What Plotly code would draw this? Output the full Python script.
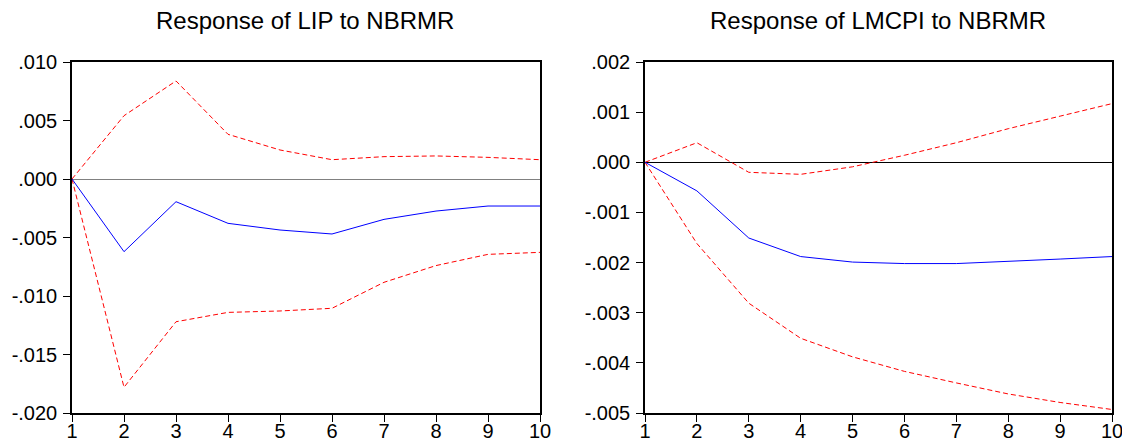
import plotly.graph_objects as go

periods = [1, 2, 3, 4, 5, 6, 7, 8, 9, 10]

lip_resp = [0.0, -0.00621, -0.00194, -0.00379, -0.00436, -0.00470, -0.00345, -0.00274, -0.00231, -0.00231]
lip_upper = [0.0, 0.00541, 0.00838, 0.00382, 0.00248, 0.00165, 0.00191, 0.00197, 0.00185, 0.00165]
lip_lower = [0.0, -0.01780, -0.01220, -0.01140, -0.01128, -0.01105, -0.00883, -0.00740, -0.00644, -0.00627]

cpi_resp = [0.0, -0.00057, -0.00151, -0.00188, -0.00199, -0.00202, -0.00202, -0.00198, -0.00193, -0.00188]
cpi_upper = [0.0, 0.00039, -0.00020, -0.00024, -0.00009, 0.00014, 0.00039, 0.00067, 0.00092, 0.00117]
cpi_lower = [0.0, -0.00162, -0.00281, -0.00351, -0.00388, -0.00417, -0.00440, -0.00462, -0.00479, -0.00493]

lip_ticks = [0.010, 0.005, 0.0, -0.005, -0.010, -0.015, -0.020]
lip_ticktext = [".010", ".005", ".000", "-.005", "-.010", "-.015", "-.020"]
cpi_ticks = [0.002, 0.001, 0.0, -0.001, -0.002, -0.003, -0.004, -0.005]
cpi_ticktext = [".002", ".001", ".000", "-.001", "-.002", "-.003", "-.004", "-.005"]

titles = ["Response of LIP to NBRMR", "Response of LMCPI to NBRMR"]

fig = go.Figure()

dash = "5px,3px"
for i, (resp, up, lo) in enumerate([(lip_resp, lip_upper, lip_lower), (cpi_resp, cpi_upper, cpi_lower)]):
    xa = "x" if i == 0 else "x2"
    ya = "y" if i == 0 else "y2"
    fig.add_trace(go.Scatter(x=periods, y=up, mode="lines", line=dict(color="#FF0000", width=1, dash=dash),
                             xaxis=xa, yaxis=ya, showlegend=False))
    fig.add_trace(go.Scatter(x=periods, y=lo, mode="lines", line=dict(color="#FF0000", width=1, dash=dash),
                             xaxis=xa, yaxis=ya, showlegend=False))
    fig.add_trace(go.Scatter(x=periods, y=resp, mode="lines", line=dict(color="#0000FF", width=1),
                             xaxis=xa, yaxis=ya, showlegend=False))

font = dict(family="Liberation Sans, Arial, sans-serif", size=20, color="black")
tfont = dict(family="Liberation Sans, Arial, sans-serif", size=24, color="black")

common_x = dict(range=[1, 10], tickvals=periods, ticks="outside", ticklen=7, tickwidth=1, tickcolor="black",
                showline=True, linecolor="black", linewidth=1.5, mirror=True, showgrid=False, zeroline=False,
                tickfont=font, automargin=False, ticklabelstandoff=-8)
common_y = dict(ticks="outside", ticklen=7, tickwidth=1, tickcolor="black",
                showline=True, linecolor="black", linewidth=1.5, mirror=True, showgrid=False,
                zeroline=True, zerolinewidth=1, tickfont=font, automargin=False, ticklabelstandoff=2)

# page body has an 8px margin; the figure is offset by it and may overflow the window edge
W, H = 1122, 435

fig.update_layout(
    template="none",
    width=W, height=H,
    margin=dict(l=0, r=0, t=0, b=0, autoexpand=False),
    paper_bgcolor="white", plot_bgcolor="white",
    xaxis=dict(domain=[64 / W, 532 / W], anchor="y", **common_x),
    yaxis=dict(domain=[(H - 405) / H, (H - 54) / H], anchor="x", range=[-0.020, 0.010], tickvals=lip_ticks,
               ticktext=lip_ticktext, zerolinecolor="#808080", **common_y),
    xaxis2=dict(domain=[637 / W, 1104 / W], anchor="y2", **common_x),
    yaxis2=dict(domain=[(H - 405) / H, (H - 54) / H], anchor="x2", range=[-0.005, 0.002], tickvals=cpi_ticks,
                ticktext=cpi_ticktext, zerolinecolor="black", **common_y),
    annotations=[
        dict(text=titles[0], x=296.5 / W, y=1 - 12 / H, xref="paper", yref="paper", showarrow=False,
             xanchor="center", yanchor="middle", font=tfont),
        dict(text=titles[1], x=870 / W, y=1 - 12 / H, xref="paper", yref="paper", showarrow=False,
             xanchor="center", yanchor="middle", font=tfont),
    ],
)

fig.write_html("out.html", config={"responsive": False})
